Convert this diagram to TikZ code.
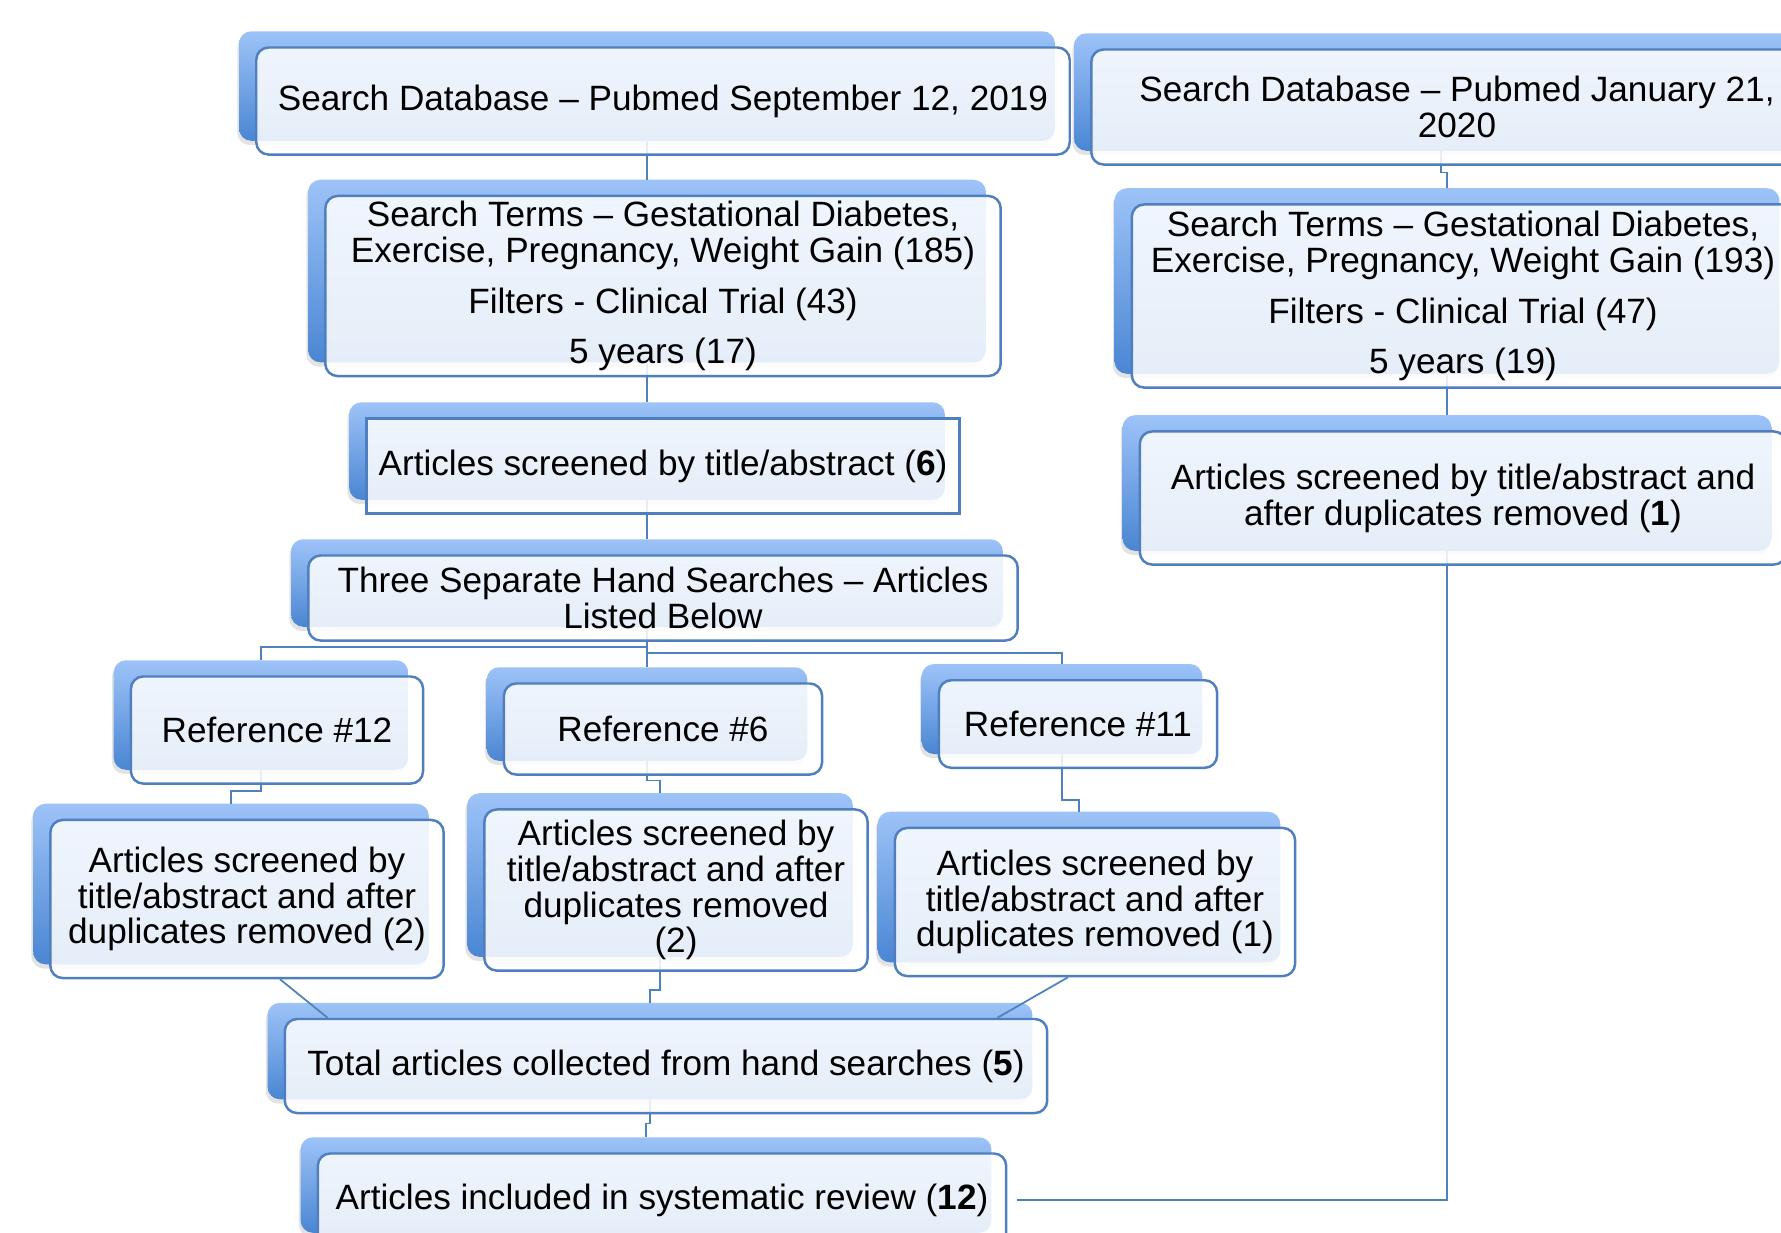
\documentclass[tikz,border=0pt]{standalone}
\usepackage{fontspec}
\setmainfont{Liberation Sans}
\usetikzlibrary{calc,backgrounds,shadows}
\definecolor{BackTop}{HTML}{9DC3F8}
\definecolor{BackBot}{HTML}{4A86D3}
\definecolor{EdgeBlue}{HTML}{4F7FBF}
\definecolor{LinkBlue}{HTML}{4F81BD}

\begin{document}
\begin{tikzpicture}[x=0.01cm,y=-0.01cm]
    \tikzset{
      card/.style={draw=EdgeBlue,line width=0.7pt,rounded corners=3.5pt,fill=white,fill opacity=0.86,
        text opacity=1,inner sep=0pt,align=center,font=\fontsize{10}{10.2}\selectfont},
      backcard/.style={rounded corners=3.5pt,top color=BackTop,bottom color=BackBot,
        drop shadow={shadow xshift=-0.5pt,shadow yshift=-1.2pt,opacity=0.22}},
      bk/.style={shift={(-16,-15)}},
      link/.style={draw=LinkBlue,line width=0.5pt},
      elbow/.style={to path={|- ($(\tikztostart)!#1!(\tikztotarget)$) -| (\tikztotarget)}}
    }
    \useasboundingbox (0,0) rectangle (1781,1232);

    % left column: first search
    \node[card,minimum width=8.13cm,minimum height=1.07cm] (db1) at (663,101)
      {Search Database – Pubmed September 12, 2019};
    \node[card,minimum width=6.75cm,minimum height=1.80cm] (terms1) at (663,286)
      {Search Terms – Gestational Diabetes,\\Exercise, Pregnancy, Weight Gain (185)\\[4.3pt]
       Filters - Clinical Trial (43)\\[4pt]5 years (17)};
    \node[card,sharp corners,minimum width=5.93cm,minimum height=0.95cm] (scr1) at (663,466)
      {Articles screened by title/abstract (\textbf{6})};
    \node[card,minimum width=7.09cm,minimum height=0.85cm] (hand) at (663,598)
      {Three Separate Hand Searches – Articles\\Listed Below};

    % right column: second search
    \node[card,minimum width=7.31cm,minimum height=1.15cm] (db2) at (1457,107)
      {Search Database – Pubmed January 21,\\2020};
    \node[card,minimum width=6.62cm,minimum height=1.83cm] (terms2) at (1463,296)
      {Search Terms – Gestational Diabetes,\\Exercise, Pregnancy, Weight Gain (193)\\[4.3pt]
       Filters - Clinical Trial (47)\\[4pt]5 years (19)};
    \node[card,minimum width=6.46cm,minimum height=1.33cm] (scr2) at (1463,498)
      {Articles screened by title/abstract and\\after duplicates removed (\textbf{1})};

    % hand searches
    \node[card,minimum width=2.92cm,minimum height=1.07cm] (ref12) at (277,730) {Reference \#12};
    \node[card,minimum width=3.18cm,minimum height=0.91cm] (ref6) at (663,729) {Reference \#6};
    \node[card,minimum width=2.78cm,minimum height=0.875cm] (ref11) at (1078,724) {Reference \#11};
    \node[card,minimum width=3.93cm,minimum height=1.58cm] (hsA) at (247,899)
      {Articles screened by\\title/abstract and after\\duplicates removed (2)};
    \node[card,minimum width=3.83cm,minimum height=1.61cm] (hsB) at (676,890)
      {Articles screened by\\title/abstract and after\\duplicates removed\\(2)};
    \node[card,minimum width=4.00cm,minimum height=1.48cm] (hsC) at (1095,902)
      {Articles screened by\\title/abstract and after\\duplicates removed (1)};

    % totals
    \node[card,minimum width=7.62cm,minimum height=0.94cm] (total) at (666,1066)
      {Total articles collected from hand searches (\textbf{5})};
    \node[card,minimum width=6.88cm,minimum height=0.93cm] (incl) at (662,1200)
      {Articles included in systematic review (\textbf{12})};

    \begin{scope}[on background layer]
      \foreach \n in {db1,terms1,scr1,hand,db2,terms2,scr2,ref12,ref6,ref11,hsA,hsB,hsC,total,incl}
        \path[backcard] ([bk]\n.south west) rectangle ([bk]\n.north east);

      \draw[link] ([bk]db1.south) -- ([bk]terms1.north);
      \draw[link] ([bk]terms1.south) -- ([bk]scr1.north);
      \draw[link] ([bk]scr1.south) -- ([bk]hand.north);
      \draw[link] ([bk]db2.south) to[elbow=.58] ([bk]terms2.north);
      \draw[link] ([bk]terms2.south) -- ([bk]scr2.north);
      \draw[link] ([bk]hand.south) to[elbow=.6] ([bk]ref12.north);
      \draw[link] ([bk]hand.south) -- ([bk]ref6.north);
      \draw[link] ([bk]hand.south) to[elbow=.7] ([bk]ref11.north);
      \draw[link] ([bk]ref12.south) to[elbow=.62] ([bk]hsA.north);
      \draw[link] ([bk]ref6.south) to[elbow=.61] ([bk]hsB.north);
      \draw[link] ([bk]ref11.south) to[elbow=.8] ([bk]hsC.north);
      \draw[link] ([bk]hsB.south) to[elbow=.72] ([bk]total.north);
      \draw[link] ([bk]total.south) to[elbow=.64] ([bk]incl.north);
      \draw[link] ([xshift=0.33cm]hsA.south) -- ([xshift=0.44cm]total.north west);
      \draw[link] ([xshift=-0.27cm]hsC.south) -- ([xshift=-0.51cm]total.north east);
      \draw[link,shorten >=0.1cm] ([bk]scr2.south) |- (incl.east);
    \end{scope}
  \end{tikzpicture}
\end{document}
